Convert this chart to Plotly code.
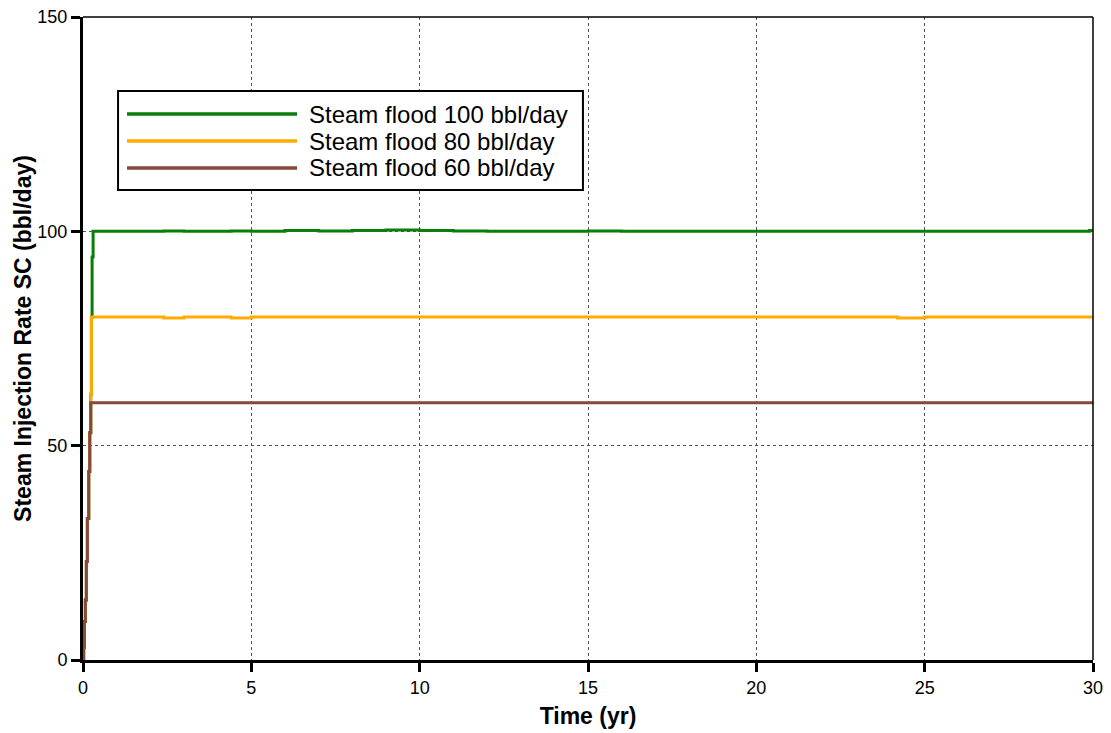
import plotly.graph_objects as go

# Time (years) for the start-up ramp and the long plateau
time_yr = [0, 0.02, 0.04, 0.07, 0.1, 0.13, 0.17, 0.2, 0.23, 0.25, 0.27, 0.3,
           1, 2, 2.4, 3, 4, 4.4, 5, 6, 7, 8, 9, 10, 11, 12, 13, 14, 15, 16, 17,
           18, 19, 20, 21, 22, 23, 24, 24.2, 25, 26, 27, 28, 29, 29.9, 30]

rate_100 = [0, 3, 9, 14, 23, 33, 44, 53, 62, 80, 94, 100,
            100, 100, 100.1, 100, 100, 100.1, 100, 100.2, 100.1, 100.2, 100.3, 100.2, 100.1, 100, 100, 100, 100.1, 100, 100,
            100, 100, 100, 100, 100, 100, 100, 100, 100, 100, 100, 100, 100, 100.2, 100.2]

rate_80 = [0, 3, 9, 14, 23, 33, 44, 53, 62, 80, 80, 80,
           80, 80, 79.8, 80, 80, 79.8, 80, 80, 80, 80, 80, 80, 80, 80, 80, 80, 80, 80, 80,
           80, 80, 80, 80, 80, 80, 80, 79.8, 80, 80, 80, 80, 80, 80, 80]

rate_60 = [0, 3, 9, 14, 23, 33, 44, 53, 60, 60, 60, 60,
           60, 60, 60, 60, 60, 60, 60, 60, 60, 60, 60, 60, 60, 60, 60, 60, 60, 60, 60,
           60, 60, 60, 60, 60, 60, 60, 60, 60, 60, 60, 60, 60, 60, 60]

series = [
    ("Steam flood 100 bbl/day", rate_100, "#0a7d0a"),
    ("Steam flood 80 bbl/day", rate_80, "#ffab00"),
    ("Steam flood 60 bbl/day", rate_60, "#86483a"),
]

x_ticks = [0, 5, 10, 15, 20, 25, 30]
y_ticks = [0, 50, 100, 150]

fig = go.Figure()
# later traces (lower rates) are drawn over the shared start-up ramp
for name, vals, color in series:
    fig.add_trace(go.Scatter(x=time_yr, y=vals, mode="lines", name=name,
                             showlegend=False,
                             line=dict(color=color, width=3, shape="hv")))

font_family = "Liberation Sans, Arial, sans-serif"

axis_common = dict(
    ticks="outside", ticklen=9, tickwidth=3, tickcolor="black",
    showline=True, linecolor="black", linewidth=3,
    showgrid=True, gridcolor="#555555", griddash="dot", gridwidth=1,
    zeroline=False, tickfont=dict(size=18), automargin=False,
)

fig.update_layout(
    width=1111, height=733,
    margin=dict(l=83, r=18, t=17, b=73),
    paper_bgcolor="white", plot_bgcolor="white",
    font=dict(family=font_family, color="black", size=18),
    xaxis=dict(
        range=[0, 30], tickvals=x_ticks, **axis_common,
        title=dict(text="<b>Time (yr)</b>", font=dict(size=23), standoff=12),
    ),
    yaxis=dict(
        range=[0, 150], tickvals=y_ticks, **axis_common,
        title=dict(text="<b>Steam Injection Rate SC (bbl/day)</b>", font=dict(size=23), standoff=0),
    ),
)

# thin frame on the top and right edges
fig.add_shape(type="line", xref="paper", yref="paper", x0=0, x1=1, y0=1, y1=1,
              line=dict(color="black", width=1.5))
fig.add_shape(type="line", xref="paper", yref="paper", x0=1, x1=1, y0=0, y1=1,
              line=dict(color="black", width=1.5))

# compact legend box with long line samples
box_x0, box_x1, box_y0, box_y1 = 0.0347, 0.495, 0.731, 0.885
sample_x0, sample_x1, label_x = 0.0436, 0.2119, 0.2218
row_y = [0.8491, 0.8071, 0.7652]
fig.add_shape(type="rect", xref="paper", yref="paper",
              x0=box_x0, x1=box_x1, y0=box_y0, y1=box_y1,
              fillcolor="white", line=dict(color="black", width=2), layer="above")
for (name, _, color), yy in zip(series, row_y):
    fig.add_shape(type="line", xref="paper", yref="paper",
                  x0=sample_x0, x1=sample_x1, y0=yy, y1=yy,
                  line=dict(color=color, width=3.5), layer="above")
    fig.add_annotation(text=name, xref="paper", yref="paper", x=label_x, y=yy,
                       xanchor="left", yanchor="middle", showarrow=False,
                       font=dict(size=24, color="black", family=font_family))

fig.write_html("out.html")
